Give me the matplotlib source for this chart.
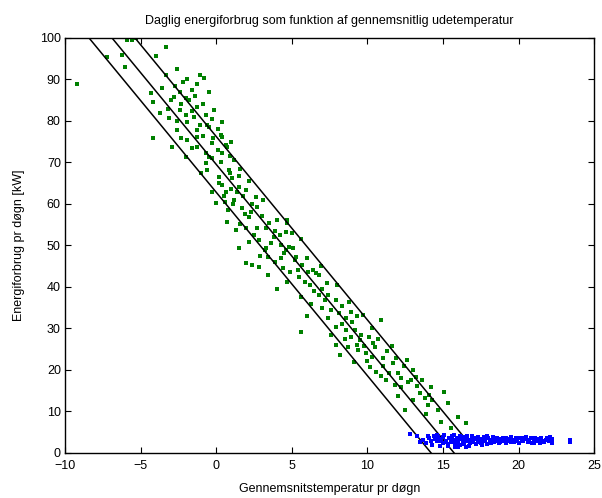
"""Daily energy use vs. mean outdoor temperature (scatter with fit band)."""

import matplotlib

matplotlib.use("Agg")
import matplotlib.pyplot as plt
import numpy as np

plt.rcParams["font.family"] = ["Liberation Sans", "DejaVu Sans"]

TITLE = "Daglig energiforbrug som funktion af gennemsnitlig udetemperatur"
X_LABEL = "Gennemsnitstemperatur pr døgn"
Y_LABEL = "Energiforbrug pr døgn [kW]"

# heating days (green)
green_temp = [
    -9.2, -7.2, -6.25, -6.0, -5.9, -5.6, -5.3, -4.0, -3.3, -2.6, -3.3, -1.1,
    -0.8, -1.3, -4.3, -3.0, -2.8, -2.4, -2.0, -1.8, -1.25, -4.2, -3.1, -2.4,
    -2.0, -1.9, -0.13, 0.4, -0.46, -1.3, -4.2, -2.9, -1.9, -1.25, -0.26, 0.4,
    0.7, -1.3, -0.66, -0.3, -0.66, 0.33, 0.2, 1.05, 1.5, 0.4, -2.0, -2.6,
    -1.6, -0.6, 0.3, 0.66, 0.4, -0.46, -0.6, 0.86, 0.2, 0.66, 1.4, 2.0,
    1.2, 2.6, 1.7, 2.7, 0.0, 2.2, 0.7, 1.3, 2.0, 2.7, 3.3, 4.0,
    4.7, 4.6, 2.2, 1.5, 2.8, 3.2, 3.8, 4.3, 4.6, 5.1, 2.0, 2.4,
    3.4, 4.3, 5.7, 4.9, 6.1, 6.6, 3.4, 3.3, 4.5, 4.8, 5.0, 4.7,
    5.3, 6.4, 6.8, 5.5, 5.9, 4.7, 5.6, 6.8, 7.2, 7.9, 7.6, 8.1,
    8.6, 7.4, 7.9, 8.6, 9.2, 9.7, 10.9, 5.6, 7.9, 8.2, 8.75, 9.4,
    9.9, 9.1, 10.3, 10.5, 11.05, 11.7, 10.2, 10.6, 12.0, 13.0, 13.2, 11.4,
    9.5, 11.2, 12.7, 12.2, 12.5, 13.8, 14.3, 14.0, 15.1, 14.7, 14.9, 16.0,
    16.5, 14.2, 13.5, 13.0, 0.9, 1.8, 1.1, 2.3, 0.5, 1.9, 3.0, 2.5,
    3.6, 3.9, 4.4, 5.4, 6.2, 6.5, 7.0, 7.4, 8.3, 8.9, 8.3, 9.0,
    9.6, 10.1, 10.4, 8.5, 9.8, 11.3, 11.9, 12.4, 12.9, 13.3, 11.8, 10.9,
    -3.6, -2.2, -1.6, -0.9, -0.3, -3.7, -2.6, -1.5, -0.9, 0.1, 1.2, 1.6,
    -1.0, 0.6, 3.5, 2.9, -2.7, -1.9, -1.4, -0.5, -3.2, -2.3, -1.6, -0.7,
    0.1, -1.1, -0.2, 1.0, -2.3, 0.9, 1.5, 2.2, 1.0, 2.4, 3.1, 1.6,
    3.9, 5.6, 6.0, 4.2, 5.2, 6.9, 7.3, 8.0, 6.3, 7.0, 8.8, 9.3,
    10.3, 7.6, 8.9, 10.7, 9.3, 11.6, 10.0, 12.6, 11.0, 12.2, 13.6, 14.1,
    12.0, 15.3, 13.9, 15.5, 0.8, -0.3, 4.0, 6.0, 2.8,
]
green_energy = [
    89.0, 95.4, 96.0, 93.0, 99.5, 99.5, 100.0, 95.7, 97.8, 92.5, 91.0, 91.0,
    90.4, 89.0, 86.7, 85.0, 85.8, 87.0, 85.5, 85.0, 83.4, 84.6, 80.7, 82.6,
    81.4, 79.7, 82.6, 79.7, 78.5, 77.8, 75.9, 73.7, 75.4, 76.1, 74.7, 76.1,
    73.7, 73.7, 72.3, 71.1, 69.9, 70.1, 66.5, 66.3, 64.1, 64.6, 71.3, 77.8,
    73.5, 79.0, 76.6, 74.2, 72.3, 71.3, 68.2, 68.2, 65.0, 62.9, 62.9, 63.4,
    61.0, 61.7, 59.0, 59.3, 60.2, 56.9, 55.7, 53.7, 54.2, 54.2, 54.2, 56.1,
    56.1, 53.3, 50.8, 49.4, 51.3, 48.9, 52.0, 50.1, 48.9, 49.4, 45.8, 45.3,
    47.2, 47.0, 45.3, 43.6, 43.6, 43.4, 42.9, 49.4, 48.2, 49.6, 53.0, 55.4,
    47.2, 44.1, 42.9, 42.4, 41.2, 41.2, 37.6, 38.1, 36.9, 36.9, 34.5, 33.7,
    32.5, 32.5, 30.4, 29.6, 29.6, 33.3, 32.0, 29.2, 26.0, 23.6, 25.5, 24.8,
    24.1, 21.9, 23.1, 25.5, 22.9, 21.7, 20.7, 19.5, 19.3, 20.0, 18.3, 19.3,
    27.2, 17.6, 17.1, 15.9, 10.4, 13.3, 12.8, 11.6, 14.7, 10.4, 7.5, 8.7,
    7.2, 15.9, 14.5, 12.8, 67.5, 62.0, 60.0, 58.0, 62.0, 57.5, 57.0, 52.5,
    50.5, 46.0, 44.5, 44.0, 40.5, 39.0, 39.5, 38.0, 35.5, 34.0, 31.0, 31.5,
    28.5, 28.0, 26.5, 27.5, 25.8, 24.5, 23.0, 21.0, 17.5, 16.2, 16.5, 18.5,
    88.0, 89.5, 87.5, 84.0, 80.5, 82.0, 80.0, 81.0, 76.5, 73.0, 70.5, 68.5,
    67.5, 60.5, 55.5, 47.5, 88.5, 90.0, 86.0, 87.0, 83.0, 84.0, 82.5, 81.5,
    78.0, 79.0, 76.0, 75.0, 76.0, 71.5, 66.8, 65.5, 63.5, 60.0, 61.0, 55.2,
    53.5, 51.5, 47.0, 52.5, 46.5, 45.0, 41.0, 40.5, 36.0, 35.0, 36.5, 33.0,
    30.0, 28.5, 28.0, 27.5, 26.0, 25.8, 22.2, 22.5, 21.0, 18.0, 17.5, 14.0,
    13.8, 12.0, 9.5, 6.0, 58.5, 63.0, 39.5, 33.0, 44.8,
]

# non-heating days (blue)
blue_temp = [
    12.8, 13.3, 13.7, 13.9, 14.1, 14.3, 14.4, 14.6, 14.7, 14.8, 14.9, 15.0,
    15.1, 15.2, 15.3, 15.4, 15.5, 15.6, 15.7, 15.8, 15.9, 16.0, 16.0, 16.1,
    16.2, 16.3, 16.4, 16.5, 16.6, 16.7, 16.8, 16.9, 17.0, 17.1, 17.2, 17.3,
    17.4, 17.5, 17.6, 17.7, 17.8, 17.9, 18.0, 18.1, 18.2, 18.3, 18.4, 18.5,
    18.6, 18.7, 18.8, 18.9, 19.0, 19.1, 19.2, 19.3, 19.4, 19.5, 19.6, 19.7,
    19.8, 19.9, 20.0, 20.1, 20.2, 20.3, 20.4, 20.5, 20.6, 20.7, 20.8, 20.9,
    21.0, 21.1, 21.2, 21.3, 21.4, 21.5, 21.6, 21.7, 21.9, 22.0, 22.1, 22.2,
    23.4, 23.4, 14.2, 14.5, 15.0, 15.3, 15.6, 15.9, 16.2, 16.4, 16.6, 16.9,
    17.2, 17.5, 17.7, 17.9, 18.2, 14.0, 13.5, 15.8, 16.5, 14.8, 15.2, 15.5,
    16.0, 16.3, 16.8, 17.0, 17.3, 17.8, 18.4, 18.8, 19.2, 19.5, 19.9, 20.3,
    20.6, 21.0, 21.4, 21.8, 22.2, 16.1, 17.6, 14.6, 15.7,
]
blue_energy = [
    4.5, 4.0, 3.2, 2.4, 3.6, 2.0, 4.1, 2.9, 3.8, 1.6, 3.3, 2.4,
    4.3, 3.0, 1.8, 3.7, 2.6, 4.0, 3.2, 2.1, 3.6, 1.5, 2.8, 4.2,
    3.3, 2.3, 3.9, 2.9, 3.5, 1.8, 3.1, 4.0, 2.6, 3.4, 2.1, 3.8,
    2.9, 3.3, 2.5, 3.9, 3.0, 2.2, 3.5, 2.8, 3.2, 3.9, 2.6, 3.0,
    3.6, 2.4, 3.3, 2.9, 3.7, 3.1, 2.5, 3.4, 2.9, 3.8, 3.2, 2.6,
    3.5, 3.0, 2.4, 3.6, 3.1, 2.8, 3.3, 3.9, 2.7, 3.2, 3.5, 2.5,
    3.0, 3.6, 2.8, 3.3, 2.4, 3.7, 3.0, 2.6, 3.5, 2.8, 3.9, 2.3,
    3.1, 2.6, 2.8, 3.4, 3.9, 2.2, 3.0, 2.5, 3.8, 2.2, 4.1, 2.7,
    3.7, 2.4, 3.0, 4.1, 2.4, 4.2, 2.6, 1.4, 1.5, 3.0, 2.6, 3.4,
    3.6, 2.8, 2.3, 3.2, 2.7, 3.5, 3.3, 2.7, 3.6, 2.6, 3.4, 3.7,
    3.1, 2.5, 3.2, 3.1, 3.4, 1.9, 1.9, 4.3, 4.4,
]

# fitted line and band (kW = intercept + slope * temp, +/- band)
fit_slope = -4.42
fit_intercept = 69.55
fit_band = 6.72
fit_range = [-10.0, 16.8]

fig = plt.figure(figsize=(6.02, 4.98), dpi=100)
ax = fig.add_axes([0.108, 0.0904, 0.879, 0.8333])

ax.plot(green_temp, green_energy, "s", color="#008000", markersize=3.5,
        markeredgewidth=0)

line_x = np.array(fit_range)
for offset in (-fit_band, 0.0, fit_band):
    ax.plot(line_x, fit_intercept + offset + fit_slope * line_x,
            color="black", linewidth=1.1)

ax.plot(blue_temp, blue_energy, "s", color="#0000ff", markersize=3.5,
        markeredgewidth=0)

ax.set_xlim(-10, 25)
ax.set_ylim(0, 100)
ax.set_xticks(np.arange(-10, 26, 5))
ax.set_yticks(np.arange(0, 101, 10))
ax.tick_params(direction="in", length=4, width=0.8, labelsize=9,
               top=True, right=True)
ax.tick_params(axis="x", pad=5)
ax.tick_params(axis="y", pad=3)
for spine in ax.spines.values():
    spine.set_linewidth(1.0)

ax.set_title(TITLE, fontsize=9, pad=10)
ax.set_xlabel(X_LABEL, fontsize=9, labelpad=8)
ax.set_ylabel(Y_LABEL, fontsize=9, labelpad=11)

fig.savefig("out.png", dpi=100)
plt.close(fig)
